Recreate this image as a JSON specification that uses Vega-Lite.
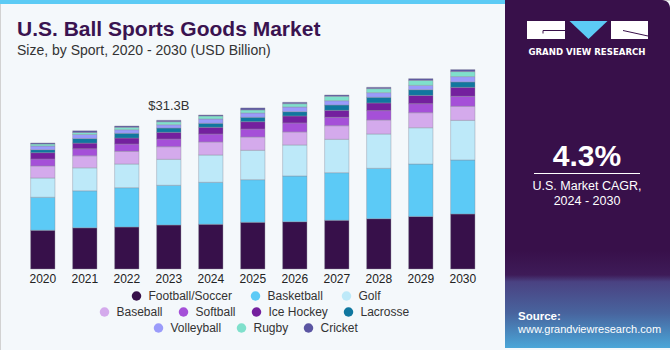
{
  "$schema": "https://vega.github.io/schema/vega-lite/v6.json",
  "width": 670,
  "height": 350,
  "autosize": "none",
  "padding": 0,
  "background": "#f4f8fb",
  "title": {
    "text": "U.S. Ball Sports Goods Market",
    "subtitle": "Size, by Sport, 2020 - 2030 (USD Billion)",
    "anchor": "start",
    "offset": -58,
    "dx": 17,
    "font": "Liberation Sans",
    "fontSize": 21,
    "fontWeight": "bold",
    "color": "#3a1350",
    "subtitleFont": "Liberation Sans",
    "subtitleFontSize": 14,
    "subtitleColor": "#333333",
    "subtitlePadding": 4
  },
  "data": {
    "values": [
      {"year": 2020, "sport": "Football/Soccer", "value": 8.15},
      {"year": 2020, "sport": "Basketball", "value": 6.95},
      {"year": 2020, "sport": "Golf", "value": 4.06},
      {"year": 2020, "sport": "Baseball", "value": 2.53},
      {"year": 2020, "sport": "Softball", "value": 1.47},
      {"year": 2020, "sport": "Ice Hockey", "value": 1.33},
      {"year": 2020, "sport": "Lacrosse", "value": 0.63},
      {"year": 2020, "sport": "Volleyball", "value": 0.78},
      {"year": 2020, "sport": "Rugby", "value": 0.42},
      {"year": 2020, "sport": "Cricket", "value": 0.21},
      {"year": 2021, "sport": "Football/Soccer", "value": 8.67},
      {"year": 2021, "sport": "Basketball", "value": 7.79},
      {"year": 2021, "sport": "Golf", "value": 4.84},
      {"year": 2021, "sport": "Baseball", "value": 2.53},
      {"year": 2021, "sport": "Softball", "value": 1.47},
      {"year": 2021, "sport": "Ice Hockey", "value": 1.2},
      {"year": 2021, "sport": "Lacrosse", "value": 0.97},
      {"year": 2021, "sport": "Volleyball", "value": 0.84},
      {"year": 2021, "sport": "Rugby", "value": 0.42},
      {"year": 2021, "sport": "Cricket", "value": 0.36},
      {"year": 2022, "sport": "Football/Soccer", "value": 8.84},
      {"year": 2022, "sport": "Basketball", "value": 8.27},
      {"year": 2022, "sport": "Golf", "value": 4.99},
      {"year": 2022, "sport": "Baseball", "value": 2.67},
      {"year": 2022, "sport": "Softball", "value": 1.54},
      {"year": 2022, "sport": "Ice Hockey", "value": 1.26},
      {"year": 2022, "sport": "Lacrosse", "value": 0.99},
      {"year": 2022, "sport": "Volleyball", "value": 0.76},
      {"year": 2022, "sport": "Rugby", "value": 0.51},
      {"year": 2022, "sport": "Cricket", "value": 0.27},
      {"year": 2023, "sport": "Football/Soccer", "value": 9.26},
      {"year": 2023, "sport": "Basketball", "value": 8.36},
      {"year": 2023, "sport": "Golf", "value": 5.47},
      {"year": 2023, "sport": "Baseball", "value": 2.65},
      {"year": 2023, "sport": "Softball", "value": 1.62},
      {"year": 2023, "sport": "Ice Hockey", "value": 1.41},
      {"year": 2023, "sport": "Lacrosse", "value": 0.91},
      {"year": 2023, "sport": "Volleyball", "value": 0.69},
      {"year": 2023, "sport": "Rugby", "value": 0.63},
      {"year": 2023, "sport": "Cricket", "value": 0.3},
      {"year": 2024, "sport": "Football/Soccer", "value": 9.41},
      {"year": 2024, "sport": "Basketball", "value": 8.84},
      {"year": 2024, "sport": "Golf", "value": 5.75},
      {"year": 2024, "sport": "Baseball", "value": 2.74},
      {"year": 2024, "sport": "Softball", "value": 1.68},
      {"year": 2024, "sport": "Ice Hockey", "value": 1.41},
      {"year": 2024, "sport": "Lacrosse", "value": 0.84},
      {"year": 2024, "sport": "Volleyball", "value": 0.91},
      {"year": 2024, "sport": "Rugby", "value": 0.63},
      {"year": 2024, "sport": "Cricket", "value": 0.21},
      {"year": 2025, "sport": "Football/Soccer", "value": 9.83},
      {"year": 2025, "sport": "Basketball", "value": 8.97},
      {"year": 2025, "sport": "Golf", "value": 6.19},
      {"year": 2025, "sport": "Baseball", "value": 2.8},
      {"year": 2025, "sport": "Softball", "value": 1.68},
      {"year": 2025, "sport": "Ice Hockey", "value": 1.54},
      {"year": 2025, "sport": "Lacrosse", "value": 0.93},
      {"year": 2025, "sport": "Volleyball", "value": 0.91},
      {"year": 2025, "sport": "Rugby", "value": 0.63},
      {"year": 2025, "sport": "Cricket", "value": 0.42},
      {"year": 2026, "sport": "Football/Soccer", "value": 9.96},
      {"year": 2026, "sport": "Basketball", "value": 9.62},
      {"year": 2026, "sport": "Golf", "value": 6.53},
      {"year": 2026, "sport": "Baseball", "value": 2.74},
      {"year": 2026, "sport": "Softball", "value": 1.89},
      {"year": 2026, "sport": "Ice Hockey", "value": 1.47},
      {"year": 2026, "sport": "Lacrosse", "value": 0.91},
      {"year": 2026, "sport": "Volleyball", "value": 0.99},
      {"year": 2026, "sport": "Rugby", "value": 0.69},
      {"year": 2026, "sport": "Cricket", "value": 0.29},
      {"year": 2027, "sport": "Football/Soccer", "value": 10.25},
      {"year": 2027, "sport": "Basketball", "value": 10.02},
      {"year": 2027, "sport": "Golf", "value": 7.03},
      {"year": 2027, "sport": "Baseball", "value": 2.86},
      {"year": 2027, "sport": "Softball", "value": 1.77},
      {"year": 2027, "sport": "Ice Hockey", "value": 1.47},
      {"year": 2027, "sport": "Lacrosse", "value": 1.12},
      {"year": 2027, "sport": "Volleyball", "value": 0.91},
      {"year": 2027, "sport": "Rugby", "value": 0.93},
      {"year": 2027, "sport": "Cricket", "value": 0.27},
      {"year": 2028, "sport": "Football/Soccer", "value": 10.59},
      {"year": 2028, "sport": "Basketball", "value": 10.61},
      {"year": 2028, "sport": "Golf", "value": 7.22},
      {"year": 2028, "sport": "Baseball", "value": 2.95},
      {"year": 2028, "sport": "Softball", "value": 1.96},
      {"year": 2028, "sport": "Ice Hockey", "value": 1.62},
      {"year": 2028, "sport": "Lacrosse", "value": 1.2},
      {"year": 2028, "sport": "Volleyball", "value": 0.97},
      {"year": 2028, "sport": "Rugby", "value": 0.84},
      {"year": 2028, "sport": "Cricket", "value": 0.29},
      {"year": 2029, "sport": "Football/Soccer", "value": 11.07},
      {"year": 2029, "sport": "Basketball", "value": 11.03},
      {"year": 2029, "sport": "Golf", "value": 7.64},
      {"year": 2029, "sport": "Baseball", "value": 3.16},
      {"year": 2029, "sport": "Softball", "value": 1.89},
      {"year": 2029, "sport": "Ice Hockey", "value": 1.75},
      {"year": 2029, "sport": "Lacrosse", "value": 1.2},
      {"year": 2029, "sport": "Volleyball", "value": 0.91},
      {"year": 2029, "sport": "Rugby", "value": 1.05},
      {"year": 2029, "sport": "Cricket", "value": 0.36},
      {"year": 2030, "sport": "Football/Soccer", "value": 11.58},
      {"year": 2030, "sport": "Basketball", "value": 11.37},
      {"year": 2030, "sport": "Golf", "value": 8.34},
      {"year": 2030, "sport": "Baseball", "value": 2.95},
      {"year": 2030, "sport": "Softball", "value": 2.11},
      {"year": 2030, "sport": "Ice Hockey", "value": 1.89},
      {"year": 2030, "sport": "Lacrosse", "value": 1.14},
      {"year": 2030, "sport": "Volleyball", "value": 1.12},
      {"year": 2030, "sport": "Rugby", "value": 1.05},
      {"year": 2030, "sport": "Cricket", "value": 0.42}
    ]
  },
  "transform": [
    {"stack": "value", "groupby": ["year"], "as": ["v0", "v1"]}
  ],
  "layer": [
    {
      "data": {"values": [{}]},
      "mark": {"type": "rect", "fill": "#5ccbf5"},
      "encoding": {"x": {"value": 0}, "x2": {"value": 506}, "y": {"value": 0}, "y2": {"value": 4}}
    },
    {
      "data": {"values": [{}]},
      "mark": {
        "type": "rect",
        "cornerRadiusTopRight": 8,
        "fill": {
          "gradient": "linear", "x1": 0, "y1": 0, "x2": 0, "y2": 1,
          "stops": [
            {"offset": 0, "color": "#38104a"},
            {"offset": 0.72, "color": "#38104a"},
            {"offset": 0.79, "color": "#3e1b58"},
            {"offset": 0.81, "color": "#4a4282"},
            {"offset": 0.9, "color": "#48649e"},
            {"offset": 1, "color": "#4aa6d8"}
          ]
        }
      },
      "encoding": {"x": {"value": 505}, "x2": {"value": 670}, "y": {"value": 0}, "y2": {"value": 348}}
    },
    {
      "transform": [{"filter": {"field": "sport", "oneOf": ["Football/Soccer", "Basketball", "Golf"]}}],
      "mark": {"type": "bar", "stroke": "#8c8c9c", "strokeWidth": 0.8, "strokeOpacity": 0.5},
      "encoding": {
        "x": {
          "field": "year", "type": "ordinal",
          "scale": {"range": [15, 490.6], "paddingInner": 0.42, "paddingOuter": 0.372},
          "axis": {"title": null, "domain": false, "ticks": false, "tickSize": 0, "labelPadding": 4, "offset": -81, "labelFont": "Liberation Sans", "labelFontSize": 12, "labelColor": "#222222", "labelAngle": 0}
        },
        "y": {"field": "v1", "type": "quantitative", "scale": {"domain": [0, 56.62], "range": [269, 0], "nice": false}, "axis": null},
        "y2": {"field": "v0"},
        "color": {
          "field": "sport", "type": "nominal",
          "scale": {"domain": ["Football/Soccer", "Basketball", "Golf"], "range": ["#37104a", "#5ccaf6", "#bde9f9"]},
          "legend": {"title": null, "orient": "none", "legendX": 130.5, "legendY": 290, "direction": "horizontal", "columns": 3, "symbolType": "circle", "symbolSize": 90, "symbolStrokeWidth": 0, "symbolOpacity": 1, "labelOffset": 6, "columnPadding": 17, "labelFont": "Liberation Sans", "labelFontSize": 12, "labelColor": "#333333"}
        }
      }
    },
    {
      "transform": [{"filter": {"field": "sport", "oneOf": ["Baseball", "Softball", "Ice Hockey", "Lacrosse"]}}],
      "mark": {"type": "bar", "stroke": "#8c8c9c", "strokeWidth": 0.8, "strokeOpacity": 0.5},
      "encoding": {
        "x": {"field": "year", "type": "ordinal"},
        "y": {"field": "v1", "type": "quantitative", "axis": null},
        "y2": {"field": "v0"},
        "color": {
          "field": "sport", "type": "nominal",
          "scale": {"domain": ["Baseball", "Softball", "Ice Hockey", "Lacrosse"], "range": ["#d4aaec", "#a550d8", "#74209e", "#10779f"]},
          "legend": {"title": null, "orient": "none", "legendX": 98.5, "legendY": 306, "direction": "horizontal", "columns": 4, "symbolType": "circle", "symbolSize": 90, "symbolStrokeWidth": 0, "symbolOpacity": 1, "labelOffset": 6, "columnPadding": 14, "labelFont": "Liberation Sans", "labelFontSize": 12, "labelColor": "#333333"}
        }
      }
    },
    {
      "transform": [{"filter": {"field": "sport", "oneOf": ["Volleyball", "Rugby", "Cricket"]}}],
      "mark": {"type": "bar", "stroke": "#8c8c9c", "strokeWidth": 0.8, "strokeOpacity": 0.5},
      "encoding": {
        "x": {"field": "year", "type": "ordinal"},
        "y": {"field": "v1", "type": "quantitative", "axis": null},
        "y2": {"field": "v0"},
        "color": {
          "field": "sport", "type": "nominal",
          "scale": {"domain": ["Volleyball", "Rugby", "Cricket"], "range": ["#9a9bfa", "#7fe0cc", "#5a55a2"]},
          "legend": {"title": null, "orient": "none", "legendX": 152.5, "legendY": 322, "direction": "horizontal", "columns": 3, "symbolType": "circle", "symbolSize": 90, "symbolStrokeWidth": 0, "symbolOpacity": 1, "labelOffset": 6, "columnPadding": 14, "labelFont": "Liberation Sans", "labelFontSize": 12, "labelColor": "#333333"}
        }
      }
    },
    {
      "transform": [
        {"filter": "datum.year == 2023"},
        {"aggregate": [{"op": "sum", "field": "value", "as": "total"}], "groupby": ["year"]}
      ],
      "mark": {"type": "text", "baseline": "alphabetic", "dy": -10, "font": "Liberation Sans", "fontSize": 13, "color": "#333333"},
      "encoding": {
        "x": {"field": "year", "type": "ordinal"},
        "y": {"field": "total", "type": "quantitative", "axis": null},
        "text": {"value": "$31.3B"}
      }
    },
    {
      "data": {"values": [{}]},
      "mark": {"type": "rect", "fill": "#ffffff"},
      "encoding": {"x": {"value": 527}, "x2": {"value": 565}, "y": {"value": 21}, "y2": {"value": 39}}
    },
    {
      "data": {"values": [{}]},
      "mark": {"type": "rect", "fill": "#ffffff"},
      "encoding": {"x": {"value": 611}, "x2": {"value": 648}, "y": {"value": 21}, "y2": {"value": 39}}
    },
    {
      "data": {"values": [{}]},
      "mark": {"type": "rule", "stroke": "#38104a", "strokeWidth": 1},
      "encoding": {"x": {"value": 543}, "x2": {"value": 565}, "y": {"value": 30.5}, "y2": {"value": 30.5}}
    },
    {
      "data": {"values": [{}]},
      "mark": {"type": "rule", "stroke": "#38104a", "strokeWidth": 1},
      "encoding": {"x": {"value": 543}, "x2": {"value": 543}, "y": {"value": 30.5}, "y2": {"value": 33.5}}
    },
    {
      "data": {"values": [{}]},
      "mark": {"type": "rule", "stroke": "#38104a", "strokeWidth": 1},
      "encoding": {"x": {"value": 623}, "x2": {"value": 648}, "y": {"value": 30.5}, "y2": {"value": 36}}
    },
    {
      "data": {"values": [{}]},
      "mark": {"type": "point", "shape": "M-1,-0.47L1,-0.47L0,0.47Z", "filled": true, "fill": "#5ccbf5", "opacity": 1, "size": 1444, "strokeWidth": 0},
      "encoding": {"x": {"value": 588.5}, "y": {"value": 30}}
    },
    {
      "data": {"values": [{}]},
      "mark": {"type": "text", "text": "GRAND VIEW RESEARCH", "font": "DejaVu Sans", "fontWeight": "bold", "fontSize": 8.6, "color": "#ffffff", "align": "center", "baseline": "alphabetic"},
      "encoding": {"x": {"value": 587}, "y": {"value": 54.5}}
    },
    {
      "data": {"values": [{}]},
      "mark": {"type": "text", "text": "4.3%", "font": "Liberation Sans", "fontWeight": "bold", "fontSize": 30, "color": "#ffffff", "align": "center", "baseline": "alphabetic"},
      "encoding": {"x": {"value": 587}, "y": {"value": 165.5}}
    },
    {
      "data": {"values": [{}]},
      "mark": {"type": "rule", "stroke": "#ffffff", "strokeWidth": 1},
      "encoding": {"x": {"value": 534}, "x2": {"value": 640}, "y": {"value": 173.5}, "y2": {"value": 173.5}}
    },
    {
      "data": {"values": [{}]},
      "mark": {"type": "text", "text": "U.S. Market CAGR,", "font": "Liberation Sans", "fontSize": 12.5, "color": "#ffffff", "align": "center", "baseline": "alphabetic"},
      "encoding": {"x": {"value": 587}, "y": {"value": 190}}
    },
    {
      "data": {"values": [{}]},
      "mark": {"type": "text", "text": "2024 - 2030", "font": "Liberation Sans", "fontSize": 12.5, "color": "#ffffff", "align": "center", "baseline": "alphabetic"},
      "encoding": {"x": {"value": 587}, "y": {"value": 205}}
    },
    {
      "data": {"values": [{}]},
      "mark": {"type": "text", "text": "Source:", "font": "Liberation Sans", "fontWeight": "bold", "fontSize": 11.5, "color": "#ffffff", "align": "left", "baseline": "alphabetic"},
      "encoding": {"x": {"value": 518}, "y": {"value": 319.5}}
    },
    {
      "data": {"values": [{}]},
      "mark": {"type": "text", "text": "www.grandviewresearch.com", "font": "Liberation Sans", "fontSize": 11, "color": "#ffffff", "align": "left", "baseline": "alphabetic"},
      "encoding": {"x": {"value": 518}, "y": {"value": 333}}
    }
  ],
  "resolve": {"scale": {"color": "independent"}, "legend": {"color": "independent"}},
  "config": {
    "view": {"stroke": "#d2d2d2", "strokeWidth": 1}
  }
}
